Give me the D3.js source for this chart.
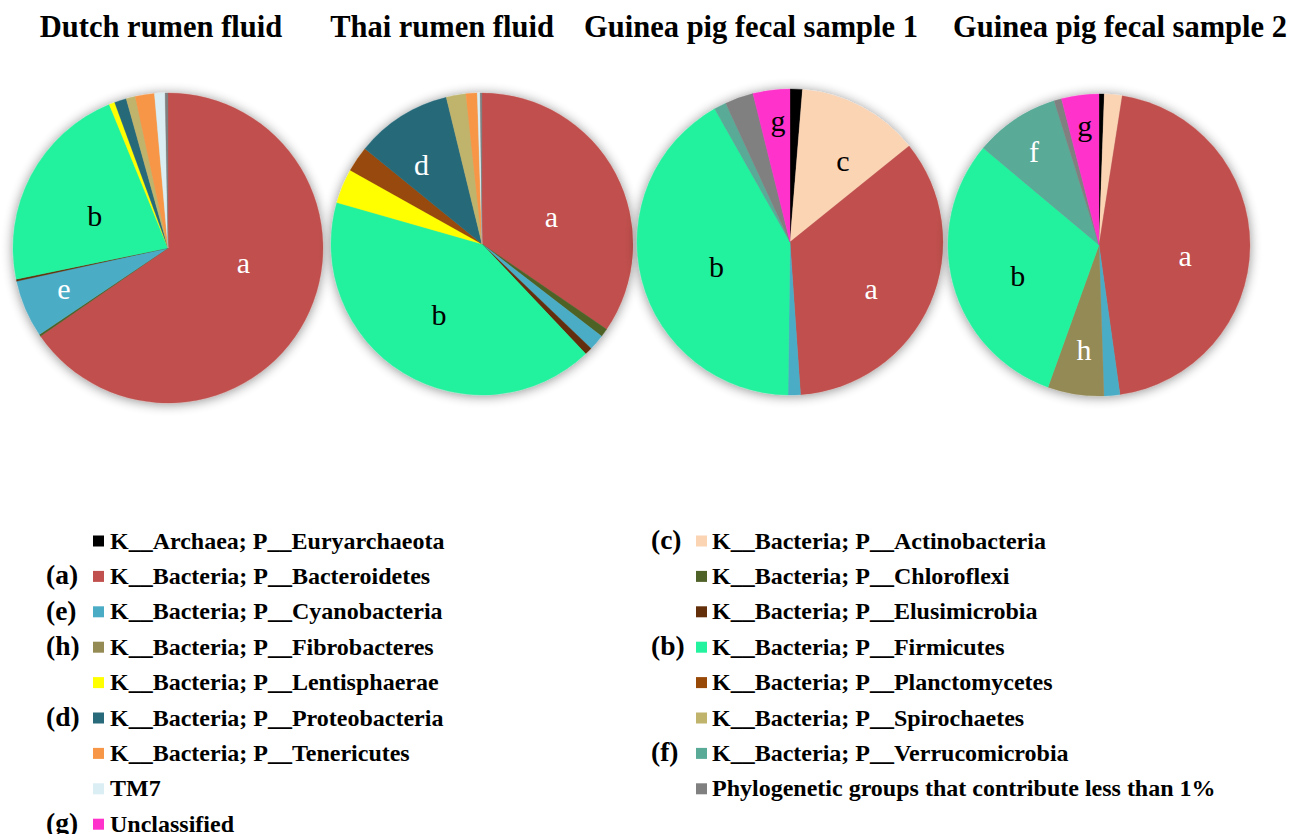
<!DOCTYPE html>
<html>
<head>
<meta charset="utf-8">
<script src="https://cdn.jsdelivr.net/npm/d3@7"></script>
<style>
  html, body { margin: 0; padding: 0; background: #ffffff; }
  svg { display: block; }
  text { font-family: "Liberation Serif", "Times New Roman", serif; }
</style>
</head>
<body>
<svg id="chart" width="1290" height="834"></svg>
<script>
// Phyla in drawing order (clockwise from 12 o'clock)
const phyla = [
  "Euryarchaeota", "Actinobacteria", "Bacteroidetes", "Chloroflexi", "Cyanobacteria",
  "Elusimicrobia", "Fibrobacteres", "Firmicutes", "Lentisphaerae", "Planctomycetes",
  "Proteobacteria", "Spirochaetes", "Tenericutes", "Verrucomicrobia", "TM7",
  "Minor", "Unclassified"
];
const legendLabels = [
  "K__Archaea; P__Euryarchaeota", "K__Bacteria; P__Actinobacteria", "K__Bacteria; P__Bacteroidetes",
  "K__Bacteria; P__Chloroflexi", "K__Bacteria; P__Cyanobacteria", "K__Bacteria; P__Elusimicrobia",
  "K__Bacteria; P__Fibrobacteres", "K__Bacteria; P__Firmicutes", "K__Bacteria; P__Lentisphaerae",
  "K__Bacteria; P__Planctomycetes", "K__Bacteria; P__Proteobacteria", "K__Bacteria; P__Spirochaetes",
  "K__Bacteria; P__Tenericutes", "K__Bacteria; P__Verrucomicrobia", "TM7",
  "Phylogenetic groups that contribute less than 1%", "Unclassified"
];
const phylumLetters = ["", "c", "a", "", "e", "", "h", "b", "", "", "d", "", "", "f", "", "", "g"];
const phylumColors = [
  "#000000", "#FBD4B4", "#C0504D", "#4F6228", "#4BACC6",
  "#632F0B", "#948A54", "#23F29E", "#FFFF00", "#984807",
  "#286A7A", "#C0B46C", "#F79646", "#5AAA98", "#DAEEF3",
  "#808080", "#FF33CC"
];

// Relative abundance (%) per sample, same order as phyla
const sampleTitles = ["Dutch rumen fluid", "Thai rumen fluid", "Guinea pig fecal sample 1", "Guinea pig fecal sample 2"];
const dutchRumen  = [0, 0, 65.5, 0.2, 6.0, 0.2, 0, 22.1, 0.6, 0, 1.25, 0.95, 2.0, 0, 1.1, 0.3, 0];
const thaiRumen   = [0, 0, 34.5, 0.9, 1.7, 0.8, 0, 41.4, 3.7, 2.75, 10.3, 2.1, 1.2, 0, 0.3, 0.2, 0];
const guineaPig1  = [1.3, 12.9, 34.7, 0, 1.3, 0, 0, 41.6, 0, 0, 0, 0, 0, 1.3, 0, 3.0, 3.9];
const guineaPig2  = [0.56, 1.9, 45.3, 0, 1.7, 0, 6.0, 30.6, 0, 0, 0, 0, 0, 9.1, 0, 0.8, 4.0];
const samples = [dutchRumen, thaiRumen, guineaPig1, guineaPig2];

// Legend columns (indices into phyla)
const legendLeft  = [0, 2, 4, 6, 8, 10, 12, 14, 16];
const legendRight = [1, 3, 5, 7, 9, 11, 13, 15];

// ---- layout ----
const pieLayout = [
  { cx: 168, cy: 248, r: 155, titleX: 161 },
  { cx: 482, cy: 244, r: 151, titleX: 442 },
  { cx: 790, cy: 242, r: 153, titleX: 751 },
  { cx: 1099, cy: 245, r: 151, titleX: 1120 }
];
// fine placement of slice letters relative to the label point [dx, dy]
const letterNudge = [
  { a: [0, -25], b: [2, 8], e: [0, -4] },
  { a: [-4, 11], b: [0, 0], d: [-9, 2] },
  { g: [3, 0], c: [7, 5], a: [4, 13], b: [8, 4] },
  { f: [-4, -2], a: [3, 10], b: [-1, 9], h: [2, -4], g: [1, 0] }
];
const lightLetters = new Set(["a", "d", "e", "f", "h"]);

const svg = d3.select("#chart");
const color = d3.scaleOrdinal(phyla, phylumColors);

const defs = svg.append("defs");
const shadow = defs.append("filter").attr("id", "pieShadow")
  .attr("x", "-20%").attr("y", "-20%").attr("width", "140%").attr("height", "140%");
shadow.append("feGaussianBlur").attr("in", "SourceAlpha").attr("stdDeviation", 6).attr("result", "blur");
shadow.append("feOffset").attr("in", "blur").attr("dx", 0).attr("dy", 1).attr("result", "off");
shadow.append("feComponentTransfer").attr("in", "off").attr("result", "soft")
  .append("feFuncA").attr("type", "linear").attr("slope", 0.45);
const merge = shadow.append("feMerge");
merge.append("feMergeNode").attr("in", "soft");
merge.append("feMergeNode").attr("in", "SourceGraphic");

const pie = d3.pie().sort(null).value(d => d.value);

samples.forEach((values, i) => {
  const L = pieLayout[i];
  const rows = phyla.map((name, k) => ({ name, value: values[k], letter: phylumLetters[k] }));
  const total = d3.sum(rows, d => d.value);
  const arcs = pie(rows);
  const arc = d3.arc().innerRadius(0).outerRadius(L.r);

  // title
  svg.append("text")
    .attr("x", L.titleX).attr("y", 37)
    .attr("text-anchor", "middle")
    .attr("font-weight", "bold")
    .attr("font-size", 30.5)
    .attr("fill", "#000")
    .text(sampleTitles[i]);

  const g = svg.append("g").attr("transform", `translate(${L.cx},${L.cy})`);
  g.append("g").attr("filter", "url(#pieShadow)")
    .selectAll("path")
    .data(arcs.filter(a => a.data.value > 0))
    .join("path")
    .attr("d", arc)
    .attr("fill", d => color(d.data.name))
    .attr("stroke", d => color(d.data.name))
    .attr("stroke-width", 0.3);

  // slice letters
  const labelled = arcs.filter(a => a.data.letter && a.data.value / total > 0.035);
  g.selectAll("text.slice")
    .data(labelled)
    .join("text")
    .attr("class", "slice")
    .each(function (d) {
      const p = d.data.value / total;
      const f = p >= 0.2 ? 0.55 : p >= 0.1 ? 0.64 : p >= 0.05 ? 0.73 : 0.8;
      const rr = L.r * f;
      const c = d3.arc().innerRadius(rr).outerRadius(rr).centroid(d);
      const n = letterNudge[i][d.data.letter] || [0, 0];
      d3.select(this).attr("x", c[0] + n[0]).attr("y", c[1] + n[1]);
    })
    .attr("dy", "0.35em")
    .attr("text-anchor", "middle")
    .attr("font-size", 30)
    .attr("fill", d => lightLetters.has(d.data.letter) ? "#ffffff" : "#000000")
    .text(d => d.data.letter);
});

// ---- legend ----
const rowY = d3.scaleLinear().domain([0, 1]).range([541, 576.4]);
function drawLegend(indices, opts) {
  const gL = svg.append("g");
  indices.forEach((k, row) => {
    const y = rowY(row);
    gL.append("rect")
      .attr("x", opts.markerX).attr("y", y - 5.5)
      .attr("width", 11).attr("height", 11)
      .attr("fill", phylumColors[k]);
    gL.append("text")
      .attr("x", opts.textX).attr("y", y + 7.5)
      .attr("font-weight", "bold").attr("font-size", opts.fontSize)
      .attr("fill", "#000")
      .text(legendLabels[k]);
    if (phylumLetters[k]) {
      gL.append("text")
        .attr("x", opts.letterX).attr("y", y + 8)
        .attr("font-weight", "bold").attr("font-size", opts.letterSize)
        .attr("fill", "#000")
        .text(`(${phylumLetters[k]})`);
    }
  });
}
drawLegend(legendLeft,  { markerX: 93,  textX: 110, letterX: 46,  fontSize: 24, letterSize: 27.5 });
drawLegend(legendRight, { markerX: 696, textX: 712, letterX: 651, fontSize: 24, letterSize: 27.5 });
</script>
</body>
</html>
